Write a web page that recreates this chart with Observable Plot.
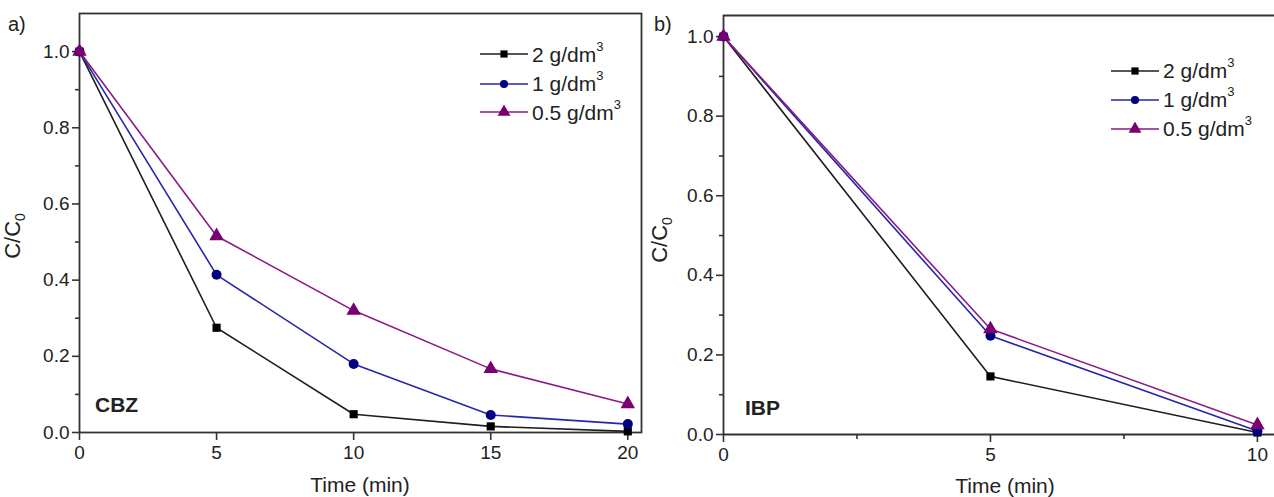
<!DOCTYPE html>
<html>
<head>
<meta charset="utf-8">
<script src="https://cdn.jsdelivr.net/npm/d3@7"></script>
<script src="https://cdn.jsdelivr.net/npm/@observablehq/plot@0.6"></script>
<style>
  html, body { margin: 0; padding: 0; background: #fff; }
  #wrap { position: relative; width: 1274px; height: 497px; font-family: "Liberation Sans", Arial, sans-serif; color: #222; overflow: hidden; }
  #wrap > svg { position: absolute; top: 0; }
  .lbl { position: absolute; transform: translate(-50%, -50%); white-space: nowrap; font-size: 21px; line-height: 1; }
  .ylab { transform: translate(-50%, -50%) rotate(-90deg); font-size: 22px; }
  .tag { position: absolute; font-size: 20px; line-height: 1; }
  .name { position: absolute; font-size: 21px; font-weight: bold; line-height: 1; transform: translateY(-50%); }
  .row { position: absolute; height: 24px; display: flex; align-items: center; font-size: 21px; white-space: nowrap; }
  #wrap .row svg { position: static; margin-right: 4px; flex: none; }
  sup { font-size: 13px; position: relative; top: -3px; }
  sub { font-size: 14px; position: relative; top: 0px; }
</style>
</head>
<body>
<div id="wrap"></div>
<script>
// ---- data ----
const timeA = [0, 5, 10, 15, 20];
const cbz2  = [1.0, 0.275, 0.048, 0.016, 0.003];
const cbz1  = [1.0, 0.414, 0.180, 0.046, 0.022];
const cbz05 = [1.0, 0.516, 0.320, 0.167, 0.075];

const timeB = [0, 5, 10];
const ibp2  = [1.0, 0.146, 0.005];
const ibp1  = [1.0, 0.248, 0.009];
const ibp05 = [1.0, 0.265, 0.024];

const seriesNames = ["2 g/dm", "1 g/dm", "0.5 g/dm"];
const lineColors = ["#1e1e1e", "#2626a8", "#8a1a86"];
const markColors = ["#000000", "#000080", "#7a0070"];
const symbols = ["square", "circle", "triangle"];
const markR = [4.6, 5, 5.4];

const yTicks = [0, 0.2, 0.4, 0.6, 0.8, 1.0];
const yMinor = [0.1, 0.3, 0.5, 0.7, 0.9];
const xTicksA = [0, 5, 10, 15, 20];
const xTicksB = [0, 5, 10];
const xMinorB = [2.5, 7.5];

function toRows(time, arrs) {
  const rows = [];
  arrs.forEach((a, k) => a.forEach((v, i) => rows.push({t: time[i], v, s: k})));
  return rows;
}

const wrap = document.getElementById("wrap");

function seriesMarks(rows) {
  const marks = [];
  for (let k = 0; k < 3; k++) {
    const d = rows.filter(r => r.s === k);
    marks.push(Plot.line(d, {x: "t", y: "v", stroke: lineColors[k], strokeWidth: 1.6}));
  }
  for (let k = 0; k < 3; k++) {
    const d = rows.filter(r => r.s === k);
    marks.push(Plot.dot(d, {x: "t", y: "v", symbol: symbols[k], r: markR[k], fill: markColors[k], stroke: "none"}));
  }
  return marks;
}

const common = {
  height: 497,
  style: {fontFamily: "'Liberation Sans', Arial, sans-serif", fontSize: "19px", color: "#222", background: "transparent", overflow: "visible"}
};
const axisStyle = {label: null, stroke: "#333", strokeWidth: 1.6, fontSize: 19, fill: "#222"};

// ---- panel a ----
const rowsA = toRows(timeA, [cbz2, cbz1, cbz05]);
const plotA = Plot.plot({
  ...common,
  width: 650,
  marginLeft: 79, marginRight: 9, marginTop: 13, marginBottom: 65,
  x: {domain: [0, 20.5]},
  y: {domain: [0, 1.1]},
  marks: [
    Plot.frame({stroke: "#333", strokeWidth: 1.8}),
    Plot.axisY({...axisStyle, ticks: yTicks, tickSize: 7, tickPadding: 3, tickFormat: d3.format(".1f")}),
    Plot.axisY({...axisStyle, ticks: yMinor, tickSize: 4, tickFormat: () => ""}),
    Plot.axisX({...axisStyle, ticks: xTicksA, tickSize: 8, tickPadding: 5, tickFormat: d3.format("d")}),
    ...seriesMarks(rowsA)
  ]
});
plotA.style.left = "0px";
wrap.appendChild(plotA);

// ---- panel b ----
const rowsB = toRows(timeB, [ibp2, ibp1, ibp05]);
const plotB = Plot.plot({
  ...common,
  width: 632,
  marginLeft: 81, marginRight: 0, marginTop: 15, marginBottom: 63,
  x: {domain: [0, 10.32]},
  y: {domain: [0, 1.053]},
  marks: [
    Plot.ruleY([1.053], {stroke: "#333", strokeWidth: 1.8}),
    Plot.ruleY([0], {stroke: "#333", strokeWidth: 1.8}),
    Plot.ruleX([0], {stroke: "#333", strokeWidth: 1.8}),
    Plot.axisY({...axisStyle, ticks: yTicks, tickSize: 7, tickPadding: 3, tickFormat: d3.format(".1f")}),
    Plot.axisY({...axisStyle, ticks: yMinor, tickSize: 4, tickFormat: () => ""}),
    Plot.axisX({...axisStyle, ticks: xTicksB, tickSize: 8, tickPadding: 5, tickFormat: d3.format("d")}),
    Plot.axisX({...axisStyle, ticks: xMinorB, tickSize: 5, tickFormat: () => ""}),
    ...seriesMarks(rowsB)
  ]
});
plotB.style.left = "642px";
wrap.appendChild(plotB);

// ---- text overlays ----
function addDiv(cls, html, left, top) {
  const d = document.createElement("div");
  d.className = cls;
  d.innerHTML = html;
  d.style.left = left + "px";
  d.style.top = top + "px";
  wrap.appendChild(d);
  return d;
}
addDiv("lbl", "Time (min)", 360, 484);
addDiv("lbl", "Time (min)", 1005, 485);
addDiv("lbl ylab", "C/C<sub>0</sub>", 15, 236);
addDiv("lbl ylab", "C/C<sub>0</sub>", 662, 240);
addDiv("tag", "a)", 8, 14);
addDiv("tag", "b)", 654, 14);
addDiv("name", "CBZ", 95, 404);
addDiv("name", "IBP", 745, 407);

// ---- legends ----
function legend(x0, ys) {
  seriesNames.forEach((name, k) => {
    const sw = d3.create("svg").attr("width", 48).attr("height", 14);
    sw.append("line").attr("x1", 0).attr("x2", 48).attr("y1", 7).attr("y2", 7)
      .attr("stroke", lineColors[k]).attr("stroke-width", 1.6);
    sw.append("path").attr("transform", "translate(24,7)")
      .attr("d", d3.symbol(k === 0 ? d3.symbolSquare : k === 1 ? d3.symbolCircle : d3.symbolTriangle, k === 2 ? 72 : 52)())
      .attr("fill", markColors[k]);
    const row = document.createElement("div");
    row.className = "row";
    row.style.left = x0 + "px";
    row.style.top = (ys[k] - 12) + "px";
    row.appendChild(sw.node());
    const span = document.createElement("span");
    span.innerHTML = name + "<sup>3</sup>";
    row.appendChild(span);
    wrap.appendChild(row);
  });
}
legend(480, [54, 83.5, 112]);
legend(1111, [70.5, 99.5, 128.5]);
</script>
</body>
</html>
